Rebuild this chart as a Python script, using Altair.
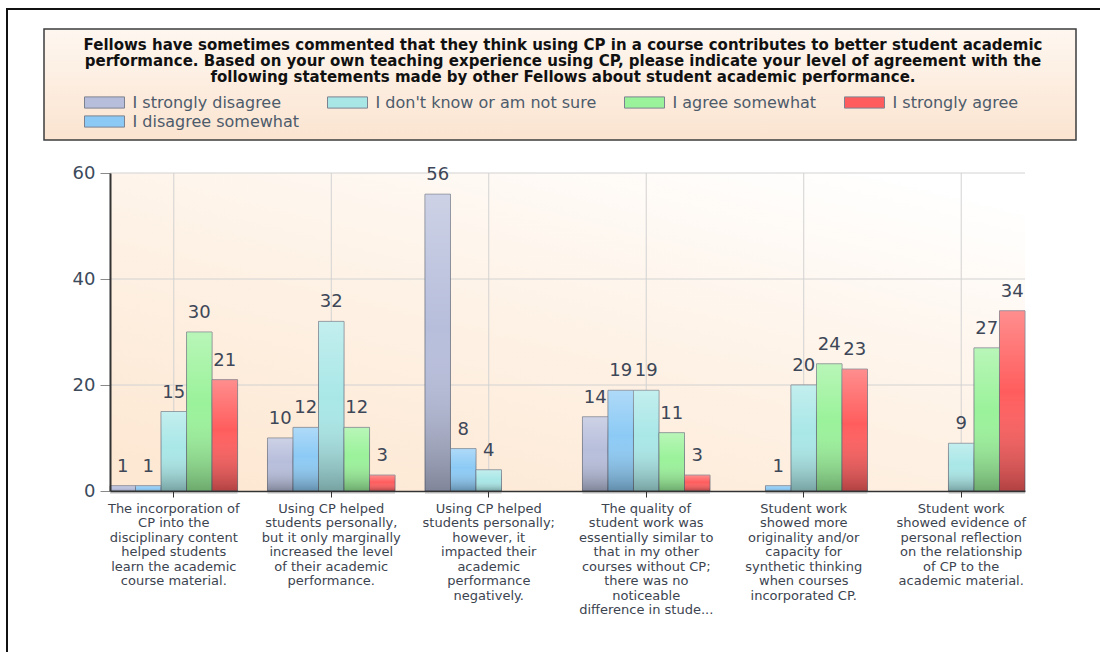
import altair as alt
import pandas as pd

# Survey statements (x categories); "|" marks a line break in the axis label
categories = [
    "The incorporation of|CP into the|disciplinary content|helped students|learn the academic|course material.",
    "Using CP helped|students personally,|but it only marginally|increased the level|of their academic|performance.",
    "Using CP helped|students personally;|however, it|impacted their|academic|performance|negatively.",
    "The quality of|student work was|essentially similar to|that in my other|courses without CP;|there was no|noticeable|difference in stude...",
    "Student work|showed more|originality and/or|capacity for|synthetic thinking|when courses|incorporated CP.",
    "Student work|showed evidence of|personal reflection|on the relationship|of CP to the|academic material.",
]

series = [
    "I strongly disagree",
    "I disagree somewhat",
    "I don't know or am not sure",
    "I agree somewhat",
    "I strongly agree",
]

strongly_disagree = [1, 10, 56, 14, None, None]
disagree_somewhat = [1, 12, 8, 19, 1, None]
dont_know = [15, 32, 4, 19, 20, 9]
agree_somewhat = [30, 12, None, 11, 24, 27]
strongly_agree = [21, 3, None, 3, 23, 34]

series_colors = ["#b7bedb", "#8ccaf5", "#a9e7e7", "#9af29a", "#ff5d5d"]

title_lines = [
    "Fellows have sometimes commented that they think using CP in a course contributes to better student academic",
    "performance.  Based on your own teaching experience using CP, please indicate your level of agreement with the",
    "following statements made by other Fellows about student academic performance.",
]

y_ticks = [0, 20, 40, 60]

# long table of counts
rows = []
for name, vals in zip(series, [strongly_disagree, disagree_somewhat, dont_know,
                               agree_somewhat, strongly_agree]):
    for cat, v in zip(categories, vals):
        if v is not None:
            rows.append({"category": cat, "series": name, "count": v})
df = pd.DataFrame(rows)

legend_order = [series[0], series[2], series[3], series[4], series[1]]
legend_colors = [series_colors[series.index(s)] for s in legend_order]

W, H = 915, 318
FONT = "DejaVu Sans"

one = pd.DataFrame({"k": [0]})
grid_y = pd.DataFrame({"v": y_ticks[1:]})
grid_x = pd.DataFrame({"category": categories})

x_scale = alt.Scale(domain=categories, paddingInner=0.19, paddingOuter=0)
off_scale = alt.Scale(domain=series, paddingInner=0, paddingOuter=0)
y_scale = alt.Scale(domain=[0, 60], nice=False)

x_enc = alt.X(
    "category:N",
    scale=x_scale,
    sort=categories,
    axis=alt.Axis(
        title=None,
        labelExpr="split(datum.label, '|')",
        labelAngle=0,
        labelAlign="center",
        labelFont=FONT,
        labelFontSize=13,
        labelColor="#3c4450",
        labelLineHeight=14.5,
        labelPadding=5,
        labelBaseline="top",
        labelLimit=400,
        bandPosition=0.5,
        tickSize=6,
        tickColor="#333333",
        domainColor="#333333",
        domainWidth=1.5,
        grid=False,
        zindex=1,
    ),
)
y_enc = alt.Y(
    "count:Q",
    scale=y_scale,
    axis=alt.Axis(
        title=None,
        values=y_ticks,
        labelFont=FONT,
        labelFontSize=18,
        labelColor="#3c4a5c",
        labelPadding=5,
        tickSize=10,
        tickColor="#8a8a8a",
        domainColor="#333333",
        domainWidth=2,
        grid=False,
        zindex=1,
    ),
)
off_enc = alt.XOffset("series:N", scale=off_scale, sort=series)

# outer frame
frame = alt.Chart(one).mark_rect(fillOpacity=0, stroke="#111111", strokeWidth=2).encode(
    x=alt.value(-103), x2=alt.value(1100), y=alt.value(-164), y2=alt.value(700)
)

# title panel
panel_fill = {
    "gradient": "linear", "x1": 0, "y1": 0, "x2": 0, "y2": 1,
    "stops": [{"offset": 0, "color": "#fef7f0"}, {"offset": 1, "color": "#fbe4d0"}],
}
panel = alt.Chart(one).mark_rect(fill=panel_fill, stroke="#3c3c3c", strokeWidth=1.5).encode(
    x=alt.value(-66), x2=alt.value(966), y=alt.value(-144), y2=alt.value(-33)
)
title = alt.Chart(one).mark_text(
    font=FONT, fontSize=15, fontWeight="bold", color="#111111",
    align="center", baseline="top", lineHeight=16,
).encode(x=alt.value(453), y=alt.value(-135), text=alt.value(title_lines))

# plot background
bg_fill = {
    "gradient": "linear", "x1": 0.15, "y1": 1, "x2": 0.85, "y2": 0,
    "stops": [{"offset": 0, "color": "#fde8d3"}, {"offset": 0.55, "color": "#fef3e8"},
              {"offset": 1, "color": "#ffffff"}],
}
bg = alt.Chart(one).mark_rect(fill=bg_fill).encode(
    x=alt.value(0), x2=alt.value(W), y=alt.value(0), y2=alt.value(H)
)

gy = alt.Chart(grid_y).mark_rule(color="#d2d2d2", strokeWidth=1).encode(
    y=alt.Y("v:Q", scale=y_scale)
)
gx = alt.Chart(grid_x).mark_rule(color="#d2d2d2", strokeWidth=1).encode(
    x=alt.X("category:N", scale=x_scale, sort=categories, bandPosition=0.5)
)

base = alt.Chart(df)

shadow = base.mark_bar(color="#000000", opacity=0.13, xOffset=3, yOffset=3).encode(
    x=x_enc, xOffset=off_enc, y=y_enc
)

bars = base.mark_bar(stroke="#5f6676", strokeOpacity=0.7, strokeWidth=1).encode(
    x=x_enc,
    xOffset=off_enc,
    y=y_enc,
    color=alt.Color(
        "series:N",
        scale=alt.Scale(domain=legend_order, range=legend_colors),
        legend=alt.Legend(
            title=None,
            orient="none",
            legendX=-26,
            legendY=-78.5,
            direction="horizontal",
            columns=4,
            symbolType="M-10,-2.8H10V2.8H-10Z",
            symbolSize=16,
            symbolStrokeColor="#7c8290",
            symbolStrokeWidth=1,
            symbolOffset=12.5,
            symbolOpacity=1,
            labelOffset=20,
            labelFont=FONT,
            labelFontSize=16,
            labelColor="#4d5b6b",
            labelLimit=400,
            rowPadding=3,
            columnPadding=25,
            padding=0,
        ),
    ),
)

shade_fill = {
    "gradient": "linear", "x1": 0, "y1": 0, "x2": 0, "y2": 1,
    "stops": [{"offset": 0, "color": "rgba(255,255,255,0.30)"},
              {"offset": 0.45, "color": "rgba(255,255,255,0)"},
              {"offset": 1, "color": "rgba(0,0,0,0.30)"}],
}
shade = base.mark_bar(fill=shade_fill).encode(x=x_enc, xOffset=off_enc, y=y_enc)

labels = base.mark_text(
    font=FONT, fontSize=18, color="#3d4757", baseline="alphabetic", dy=-14
).encode(x=x_enc, xOffset=off_enc, y=y_enc, text=alt.Text("count:Q"))

chart = (
    alt.layer(frame, panel, title, bg, gy, gx, shadow, bars, shade, labels)
    .properties(
        width=W,
        height=H,
        padding={"left": 110, "top": 173, "right": 75, "bottom": 161},
        autosize=alt.AutoSizeParams(type="none"),
        background="#ffffff",
    )
    .configure_view(stroke=None)
)

chart.save("out.html", embed_options={"renderer": "svg", "actions": False})
